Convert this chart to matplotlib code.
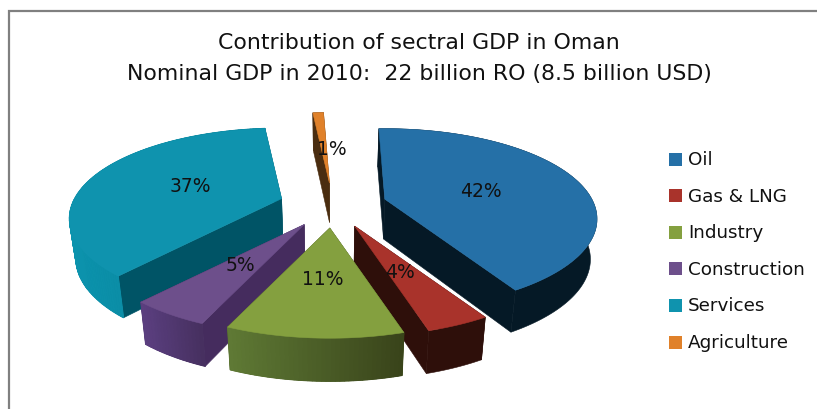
import numpy as np
import matplotlib
matplotlib.use('Agg')
import matplotlib.pyplot as plt
from matplotlib.colors import to_rgb
from matplotlib.patches import Polygon, Rectangle

# Sector shares of nominal GDP (%)
sectors = ['Oil', 'Gas & LNG', 'Industry', 'Construction', 'Services', 'Agriculture']
shares = [42, 4, 11, 5, 37, 1]

# Colours: top face, radial wall, outer wall left and right
top_colors = ['#2570a7', '#a9332b', '#84a03f', '#6d4f8b', '#0f93ae', '#e0812a']
side_colors = ['#051926', '#2e0f0a', '#3f4c20', '#452c5e', '#005466', '#4a2d10']
outer_left = ['#051926', '#2e0f0a', '#5f7a35', '#5b3f80', '#0c93ad', '#4a2d10']
outer_right = ['#051926', '#2e0f0a', '#39431a', '#46305f', '#067d93', '#4a2d10']

# Data label placement in pixels, same order as sectors
label_xy = [(481, 192), (400, 273), (323, 280), (240, 266), (190, 187), (332, 150)]

# Pie geometry in pixels
cx, cy = 333, 206.5
ax_r, by_r = 207, 86
persp = 0.22
explode_x, explode_y = 54, 22.5
start_angle = -2.0


def project(theta):
    # theta is clockwise from 12 o'clock, degrees; result relative to slice apex
    t = np.radians(theta)
    d = 1 + persp * np.cos(t)
    return ax_r * np.sin(t) / d, -by_r * np.cos(t) / d


def lower(x, y):
    # the bottom face sits lower and slightly narrower than the top face
    y = np.asarray(y, dtype=float)
    return cx + (np.asarray(x, dtype=float) - cx) * 0.975, y + 40 + 3 * (y - 206) / 130


fig = plt.figure(figsize=(8.17, 4.10), dpi=100)
ax = fig.add_axes([0, 0, 1, 1])
ax.set_xlim(0, 817)
ax.set_ylim(410, 0)
ax.axis('off')

# Chart frame, only the top and left edges are inside the image
ax.plot([9.5, 9.5, 817], [410, 12, 12], color='#808080', lw=1.6, solid_joinstyle='miter')

# Work out the angle range and the apex of each exploded slice
bounds = start_angle + np.cumsum([0] + [s * 3.6 for s in shares])
slices = []
for i in range(len(shares)):
    t0, t1 = bounds[i], bounds[i + 1]
    mid = np.radians((t0 + t1) / 2)
    ox = cx + explode_x * np.sin(mid)
    oy = cy - explode_y * np.cos(mid)
    slices.append((i, t0, t1, ox, oy))

# Back slices first so the front ones overlap them
for i in [5, 4, 0, 3, 1, 2]:
    _, t0, t1, ox, oy = slices[i]
    n = max(int(t1 - t0), 6)
    thetas = np.linspace(t0, t1, n + 1)
    px, py = project(thetas)
    xs, ys = ox + px, oy + py
    lx, ly = lower(xs, ys)
    ax_b, ay_b = lower(ox, oy)

    # radial walls
    for k in (0, -1):
        wall = [(ox, oy), (xs[k], ys[k]), (lx[k], ly[k]), (ax_b, ay_b)]
        ax.add_patch(Polygon(wall, closed=True, fc=side_colors[i], ec=side_colors[i], lw=0.4))

    # outer wall: solid base, then vertical strips shaded from left to right
    left = np.array(to_rgb(outer_left[i]))
    right = np.array(to_rgb(outer_right[i]))
    base = list(zip(xs, ys)) + list(zip(lx[::-1], ly[::-1]))
    ax.add_patch(Polygon(base, closed=True, fc=(left + right) / 2, ec=(left + right) / 2, lw=0.4))
    if outer_left[i] != outer_right[i]:
        xmin, xmax = xs.min(), xs.max()
        for j in range(n):
            f = ((xs[j] + xs[j + 1]) / 2 - xmin) / max(xmax - xmin, 1)
            col = left + (right - left) * f
            quad = [(xs[j], ys[j]), (xs[j + 1], ys[j + 1]), (lx[j + 1], ly[j + 1]), (lx[j], ly[j])]
            ax.add_patch(Polygon(quad, closed=True, fc=col, ec=col, lw=0.8))

    # top face
    face = [(ox, oy)] + list(zip(xs, ys))
    ax.add_patch(Polygon(face, closed=True, fc=top_colors[i], ec=top_colors[i], lw=0.4))

for i, (x, y) in enumerate(label_xy):
    ax.text(x, y, f'{shares[i]}%', ha='center', va='center', fontsize=13.5, color='#111111', zorder=3)

# Title
ax.text(418.5, 43, 'Contribution of sectral GDP in Oman', ha='center', va='center', fontsize=15.8, color='#111111')
ax.text(419, 74, 'Nominal GDP in 2010:  22 billion RO (8.5 billion USD)', ha='center', va='center', fontsize=15.8, color='#111111')

# Legend
for i, name in enumerate(sectors):
    y = 160 + i * 36.6
    ax.add_patch(Rectangle((669, y - 6.5), 13, 13, fc=top_colors[i], ec='none'))
    ax.text(688, y, name, ha='left', va='center', fontsize=13.2, color='#111111')

fig.savefig('out.png', dpi=100, facecolor='white')
